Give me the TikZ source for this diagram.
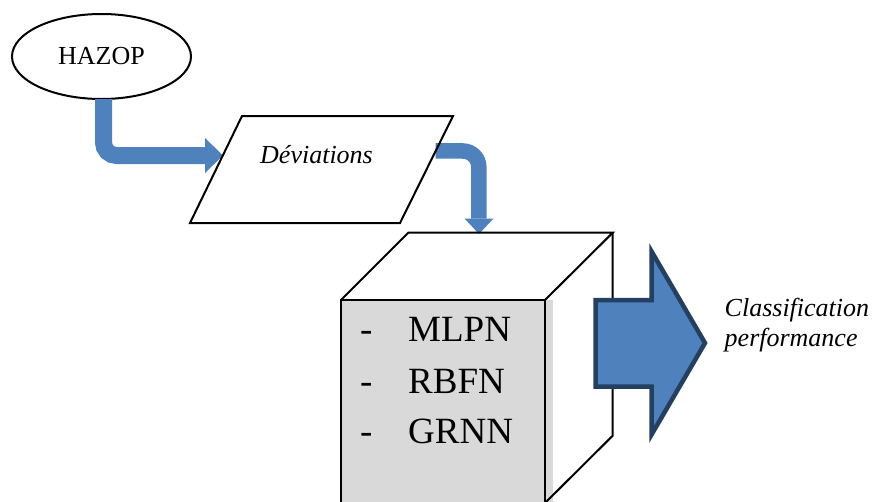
\documentclass[tikz,border=0pt]{standalone}
\usepackage{fontspec}
\setmainfont{Liberation Serif}[ItalicFont={Liberation Serif Italic},BoldFont={Liberation Serif Bold}]
\newfontfamily\serifital{Liberation Serif Italic}
\usetikzlibrary{shapes.geometric,calc}
\definecolor{flowblue}{HTML}{4F81BD}
\definecolor{navyline}{HTML}{243F60}
\definecolor{facegray}{HTML}{D9D9D9}
\begin{document}
\begin{tikzpicture}[x=1pt,y=-1pt,
  edge/.style={line width=2pt, draw=black, line join=miter},
  flowA/.style={draw=flowblue, line width=17pt, rounded corners=13pt},
  flowB/.style={draw=flowblue, line width=15.5pt, rounded corners=16pt},
  txt/.style={font=\fontsize{26}{30}\selectfont, inner sep=0pt},
  itxt/.style={font=\serifital\fontsize{26}{30}\selectfont, inner sep=0pt, anchor=base west},
  listtxt/.style={font=\fontsize{37}{44}\selectfont, inner sep=0pt, anchor=base west}]
\useasboundingbox (0,0) rectangle (874,501);

% ---- parallelogram corners
\coordinate (pTL) at (242,116);
\coordinate (pTR) at (453,116);
\coordinate (pBR) at (400,223);
\coordinate (pBL) at (190,223);
% ---- cube corners
\coordinate (fTL) at (341,300);
\coordinate (fTR) at (545,300);
\coordinate (fBR) at (545,503);
\coordinate (fBL) at (341,503);
\coordinate (bTL) at (408.3,232.7);
\coordinate (bTR) at (612.7,232.7);
\coordinate (bBR) at (612.7,435.7);

% ---- HAZOP
\node[ellipse, edge, minimum width=179pt, minimum height=85pt, inner sep=0pt, txt] (haz) at (101.5,56.5) {HAZOP};

% ---- arrow HAZOP -> Deviations
\coordinate (a1s) at ([xshift=2pt,yshift=1pt]haz.south);
\coordinate (a1b) at (205,155.5);
\coordinate (a1t) at ($(pBL)!0.635!(pTL)$);
\draw[flowA] (a1s) |- (a1b);
\fill[flowblue] (205,138) -- (a1t |- a1b) -- (205,173) -- cycle;

% ---- arrow Deviations -> cube
\coordinate (a2s) at ($(pBR)!0.673!(pTR)$);
\coordinate (a2b) at (478.8,218.5);
\coordinate (a2t) at (479,234);
\draw[flowB] (a2s) -| (a2b);
\fill[flowblue] (464.5,218.5) -- (a2t) -- (493.5,218.5) -- cycle;

% ---- parallelogram
\draw[edge] (pTL) -- (pTR) -- (pBR) -- (pBL) -- cycle;
\node[itxt] (dev) at (260,163.3) {Déviations};

% ---- cube
\fill[facegray] (341,300) rectangle (553,506);
\draw[edge] (fBL) -- (fTL) -- (fTR) -- (fBR);
\draw[edge] (fTL) -- (bTL) -- (bTR) -- (fTR);
\draw[edge] (bTR) -- (bBR) -- (fBR);

\node[listtxt] (d1) at (360,341.7) {-};
\node[listtxt] (d2) at (360,393.3) {-};
\node[listtxt] (d3) at (360,443.3) {-};
\node[listtxt] (m1) at (408,341.7) {MLPN};
\node[listtxt] (m2) at (408,393.3) {RBFN};
\node[listtxt] (m3) at (408,443.3) {GRNN};

% ---- big output arrow
\filldraw[fill=flowblue, draw=navyline, line width=4.5pt, line join=miter]
  (595.5,300) -- (651.7,300) -- (651.7,251.7) -- (705,343) -- (651.7,434.3)
  -- (651.7,386.7) -- (595.5,386.7) -- cycle;

\node[itxt] (cls1) at (724.5,316.5) {Classification};
\node[itxt] (cls2) at (724.5,346) {performance};
\end{tikzpicture}
\end{document}
